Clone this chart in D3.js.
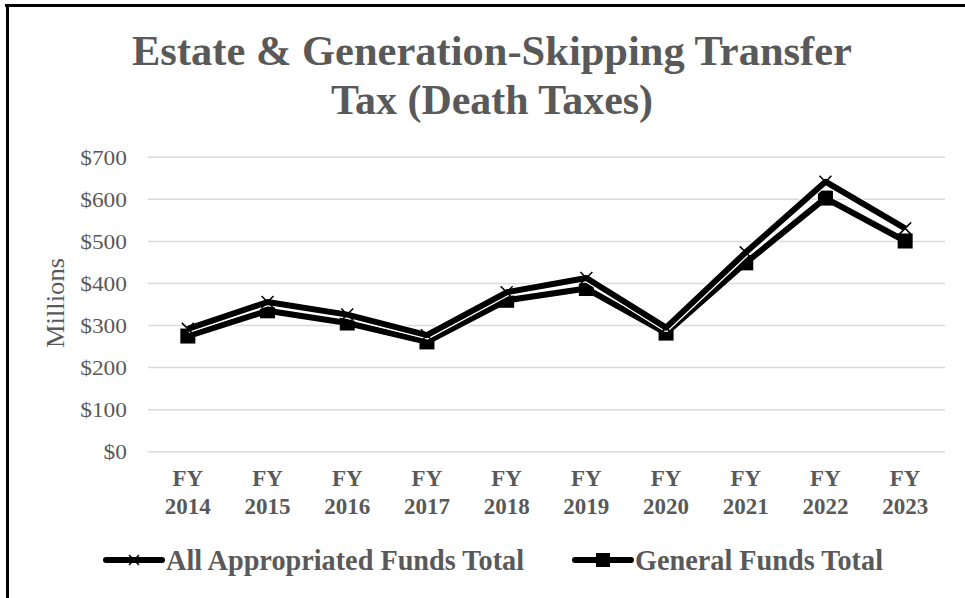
<!DOCTYPE html>
<html>
<head>
<meta charset="utf-8">
<script src="https://cdn.jsdelivr.net/npm/d3@7"></script>
<style>
html, body { margin: 0; padding: 0; background: #fff; }
svg { display: block; }
text { font-family: "Liberation Serif", "Times New Roman", serif; fill: #595959; }
</style>
</head>
<body>
<svg id="chart" width="965" height="598"></svg>
<script>
const titleLines = ["Estate & Generation-Skipping Transfer", "Tax (Death Taxes)"];
const categories = ["FY 2014", "FY 2015", "FY 2016", "FY 2017", "FY 2018", "FY 2019", "FY 2020", "FY 2021", "FY 2022", "FY 2023"];
const allFunds = [292, 356, 326, 277, 379, 413, 295, 474, 642, 531];
const generalFunds = [275, 335, 306, 261, 360, 388, 282, 449, 603, 501];
const yTicks = [0, 100, 200, 300, 400, 500, 600, 700];
const seriesNames = ["All Appropriated Funds Total", "General Funds Total"];
const yAxisLabel = "Millions";

const svg = d3.select("#chart");
const W = 965, H = 598;
const m = { left: 148, right: 20, top: 157.3, bottom: 146.3 };
const plotW = W - m.left - m.right;
const plotH = H - m.top - m.bottom;

// frame
svg.append("line").attr("x1", 5).attr("x2", 965).attr("y1", 5.5).attr("y2", 5.5)
  .attr("stroke", "#000").attr("stroke-width", 3);
svg.append("line").attr("x1", 7.5).attr("x2", 7.5).attr("y1", 4).attr("y2", 598)
  .attr("stroke", "#000").attr("stroke-width", 3);

// title
const titleSpec = [{ w: 720 }, { w: 322 }];
svg.append("g").selectAll("text").data(titleLines).join("text")
  .attr("x", 492).attr("y", (d, i) => 65 + i * 49)
  .attr("text-anchor", "middle")
  .attr("font-size", 43).attr("font-weight", "bold")
  .attr("textLength", (d, i) => titleSpec[i].w).attr("lengthAdjust", "spacingAndGlyphs")
  .text(d => d);

const g = svg.append("g").attr("transform", `translate(${m.left},${m.top})`);
const x = d3.scaleBand().domain(categories).range([0, plotW]);
const y = d3.scaleLinear().domain([0, 700]).range([plotH, 0]);

// gridlines
g.append("g").selectAll("line").data(yTicks).join("line")
  .attr("x1", 0).attr("x2", plotW)
  .attr("y1", d => y(d)).attr("y2", d => y(d))
  .attr("stroke", "#d9d9d9").attr("stroke-width", 1.5);

// y axis
const yAxis = d3.axisLeft(y).tickValues(yTicks).tickSize(0).tickPadding(21)
  .tickFormat(d => "$" + d);
const ya = g.append("g").call(yAxis);
ya.select(".domain").remove();
ya.selectAll("text").attr("font-size", 22).attr("fill", "#595959")
  .attr("font-family", '"Liberation Serif", "Times New Roman", serif')
  .attr("textLength", function() { return this.textContent.length * 11.7; })
  .attr("lengthAdjust", "spacingAndGlyphs");

// y label
svg.append("text").attr("transform", `translate(64,303) rotate(-90)`)
  .attr("text-anchor", "middle").attr("font-size", 26)
  .attr("textLength", 90).attr("lengthAdjust", "spacingAndGlyphs")
  .text(yAxisLabel);

// x axis
const xAxis = d3.axisBottom(x).tickSize(0).tickFormat(() => "");
const xa = g.append("g").attr("transform", `translate(0,${plotH})`).call(xAxis);
xa.select(".domain").remove();
xa.selectAll(".tick").each(function(d) {
  const parts = d.split(" ");
  const t = d3.select(this).append("text")
    .attr("text-anchor", "middle").attr("font-size", 23).attr("font-weight", "bold")
    .attr("fill", "#595959")
    .attr("font-family", '"Liberation Serif", "Times New Roman", serif');
  t.append("tspan").attr("x", 0).attr("y", 34).text(parts[0]);
  t.append("tspan").attr("x", 0).attr("y", 62).text(parts[1]);
});

const cx = d => x(d) + x.bandwidth() / 2;
const line = d3.line().x(d => cx(d.c)).y(d => y(d.v));
const genData = categories.map((c, i) => ({ c, v: generalFunds[i] }));
const allData = categories.map((c, i) => ({ c, v: allFunds[i] }));

// general series
g.append("path").datum(genData).attr("d", line).attr("fill", "none")
  .attr("stroke", "#fff").attr("stroke-width", 8.5).attr("stroke-linejoin", "round");
g.append("path").datum(genData).attr("d", line).attr("fill", "none")
  .attr("stroke", "#000").attr("stroke-width", 6).attr("stroke-linejoin", "round");
g.append("g").selectAll("rect").data(genData).join("rect")
  .attr("x", d => cx(d.c) - 7.5).attr("y", d => y(d.v) - 7.5)
  .attr("width", 15).attr("height", 15).attr("fill", "#000");

// all series
g.append("path").datum(allData).attr("d", line).attr("fill", "none")
  .attr("stroke", "#fff").attr("stroke-width", 8.5).attr("stroke-linejoin", "round");
g.append("path").datum(allData).attr("d", line).attr("fill", "none")
  .attr("stroke", "#000").attr("stroke-width", 6).attr("stroke-linejoin", "round");
const xm = 6;
g.append("g").selectAll("path").data(allData).join("path")
  .attr("d", d => {
    const px = cx(d.c), py = y(d.v);
    return `M${px - xm},${py - xm}L${px + xm},${py + xm}M${px - xm},${py + xm}L${px + xm},${py - xm}`;
  })
  .attr("stroke", "#000").attr("stroke-width", 1.5).attr("fill", "none");

// legend
const legend = svg.append("g");
const legItems = [
  { name: seriesNames[0], x1: 106, x2: 162, tx: 166, w: 358, marker: "x" },
  { name: seriesNames[1], x1: 575, x2: 631, tx: 635, w: 248, marker: "sq" }
];
const ly = 560;
legItems.forEach(it => {
  legend.append("line").attr("x1", it.x1).attr("x2", it.x2).attr("y1", ly).attr("y2", ly)
    .attr("stroke", "#000").attr("stroke-width", 6).attr("stroke-linecap", "round");
  const mx = (it.x1 + it.x2) / 2;
  if (it.marker === "x") {
    const s = 5;
    legend.append("path")
      .attr("d", `M${mx - s},${ly - s}L${mx + s},${ly + s}M${mx - s},${ly + s}L${mx + s},${ly - s}`)
      .attr("stroke", "#000").attr("stroke-width", 1.5);
  } else {
    legend.append("rect").attr("x", mx - 7).attr("y", ly - 7).attr("width", 14).attr("height", 14).attr("fill", "#000");
  }
  legend.append("text").attr("x", it.tx).attr("y", ly + 10)
    .attr("font-size", 30).attr("font-weight", "bold")
    .attr("textLength", it.w).attr("lengthAdjust", "spacingAndGlyphs")
    .text(it.name);
});
</script>
</body>
</html>
